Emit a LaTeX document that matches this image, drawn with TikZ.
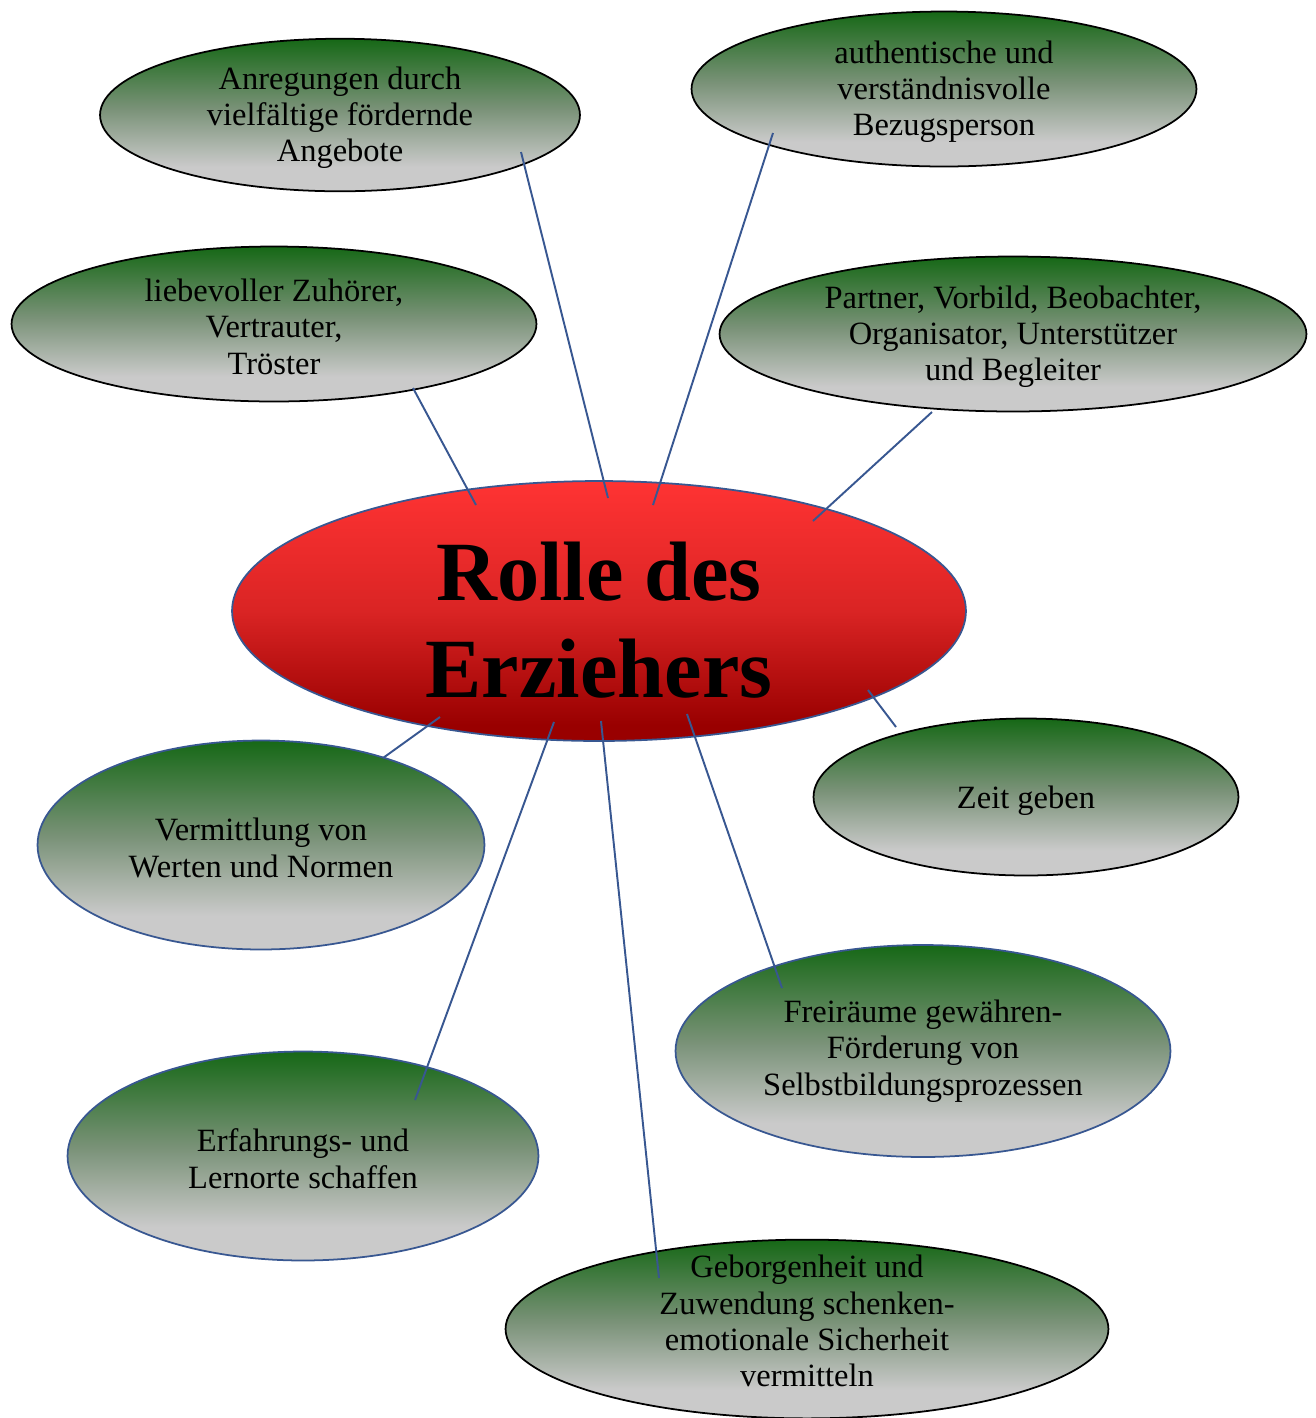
\documentclass[tikz,border=0pt]{standalone}
\usepackage{fontspec}
\setmainfont{Liberation Serif}
\usetikzlibrary{shapes.geometric}
\definecolor{rolgreen}{RGB}{22,104,22}
\definecolor{rolmid}{RGB}{122,146,120}
\definecolor{rolgray}{RGB}{202,202,202}
\definecolor{rolred}{RGB}{255,51,51}
\definecolor{rolredm}{RGB}{218,36,36}
\definecolor{roldark}{RGB}{153,0,0}
\definecolor{rolblue}{RGB}{56,87,145}
\pgfdeclareverticalshading{rolleafshade}{100bp}{color(0bp)=(rolgray); color(33bp)=(rolgray); color(52bp)=(rolmid); color(75bp)=(rolgreen); color(100bp)=(rolgreen)}
\pgfdeclareverticalshading{rolmainshade}{100bp}{color(0bp)=(roldark); color(28bp)=(roldark); color(50bp)=(rolredm); color(75bp)=(rolred); color(100bp)=(rolred)}
\tikzset{
  rleaf/.style={ellipse, draw=black, line width=1pt, shading=rolleafshade, inner sep=0pt, align=center, font=\fontsize{18.5}{20.7}\selectfont},
  rleafb/.style={rleaf, draw=rolblue},
  rmain/.style={ellipse, draw=rolblue, line width=1pt, shading=rolmainshade, inner sep=0pt, align=center, font=\fontsize{48}{55}\selectfont\bfseries},
  rlink/.style={draw=rolblue, line width=1.1pt}
}

\begin{document}
\begin{tikzpicture}[x=0.02cm, y=0.02cm]
    \useasboundingbox (0,0) rectangle (1316,-1418);
    % centre
    \node[rmain, minimum width=14.68cm, minimum height=5.2cm] (main) at (599,-611) {\rule{0pt}{44pt}Rolle des\\ Erziehers};
    % upper ellipses
    \node[rleaf, minimum width=9.6cm, minimum height=3cm] (anr) at (340,-115) {\rule{0pt}{16pt}Anregungen durch\\ vielfältige fördernde\\ Angebote};
    \node[rleaf, minimum width=10.1cm, minimum height=3.1cm] (auth) at (944,-89) {\rule{0pt}{16pt}authentische und\\ verständnisvolle\\ Bezugsperson};
    \node[rleaf, minimum width=10.5cm, minimum height=3.1cm] (lieb) at (274,-324) {\rule{0pt}{16pt}liebevoller Zuhörer,\\ Vertrauter,\\ Tröster};
    \node[rleaf, minimum width=11.74cm, minimum height=3.1cm] (part) at (1013,-334) {\rule{0pt}{16pt}Partner, Vorbild, Beobachter,\\ Organisator, Unterstützer\\ und Begleiter};
    % lower ellipses
    \node[rleaf, minimum width=8.5cm, minimum height=3.14cm] (zeit) at (1026,-797) {\rule{0pt}{17pt}Zeit geben};
    \node[rleafb, minimum width=8.94cm, minimum height=4.18cm] (verm) at (261,-845) {\rule{0pt}{16pt}Vermittlung von\\ Werten und Normen};
    \node[rleafb, minimum width=9.9cm, minimum height=4.24cm] (frei) at (923,-1051) {Freiräume gewähren-\\ Förderung von\\ Selbstbildungsprozessen};
    \node[rleafb, minimum width=9.42cm, minimum height=4.18cm] (erf) at (303,-1156) {\rule{0pt}{16pt}Erfahrungs- und\\ Lernorte schaffen};
    \node[rleaf, minimum width=12.06cm, minimum height=3.54cm, inner ysep=-6pt] (geb) at (807,-1329) {Geborgenheit und\\ Zuwendung schenken-\\ emotionale Sicherheit\\ vermitteln\rule[-9pt]{0pt}{1pt}};
    % link ends
    \coordinate (anrE) at (521,-152);  \coordinate (anrM) at (608,-498);
    \coordinate (authE) at (773,-133); \coordinate (authM) at (653,-505);
    \coordinate (liebE) at (413,-388); \coordinate (liebM) at (476,-505);
    \coordinate (partE) at (932,-412); \coordinate (partM) at (813,-521);
    \coordinate (zeitE) at (896,-727); \coordinate (zeitM) at (868,-690);
    \coordinate (vermE) at (383,-758); \coordinate (vermM) at (440,-717);
    \coordinate (erfE) at (415,-1100); \coordinate (erfM) at (554,-722);
    \coordinate (gebE) at (659,-1278); \coordinate (gebM) at (601,-721);
    \coordinate (freiE) at (782,-988); \coordinate (freiM) at (687,-714);
    \foreach \n in {anr,auth,lieb,part,zeit,verm,erf,geb,frei}
      \draw[rlink] (\n E) -- (\n M);
  \end{tikzpicture}
\end{document}
